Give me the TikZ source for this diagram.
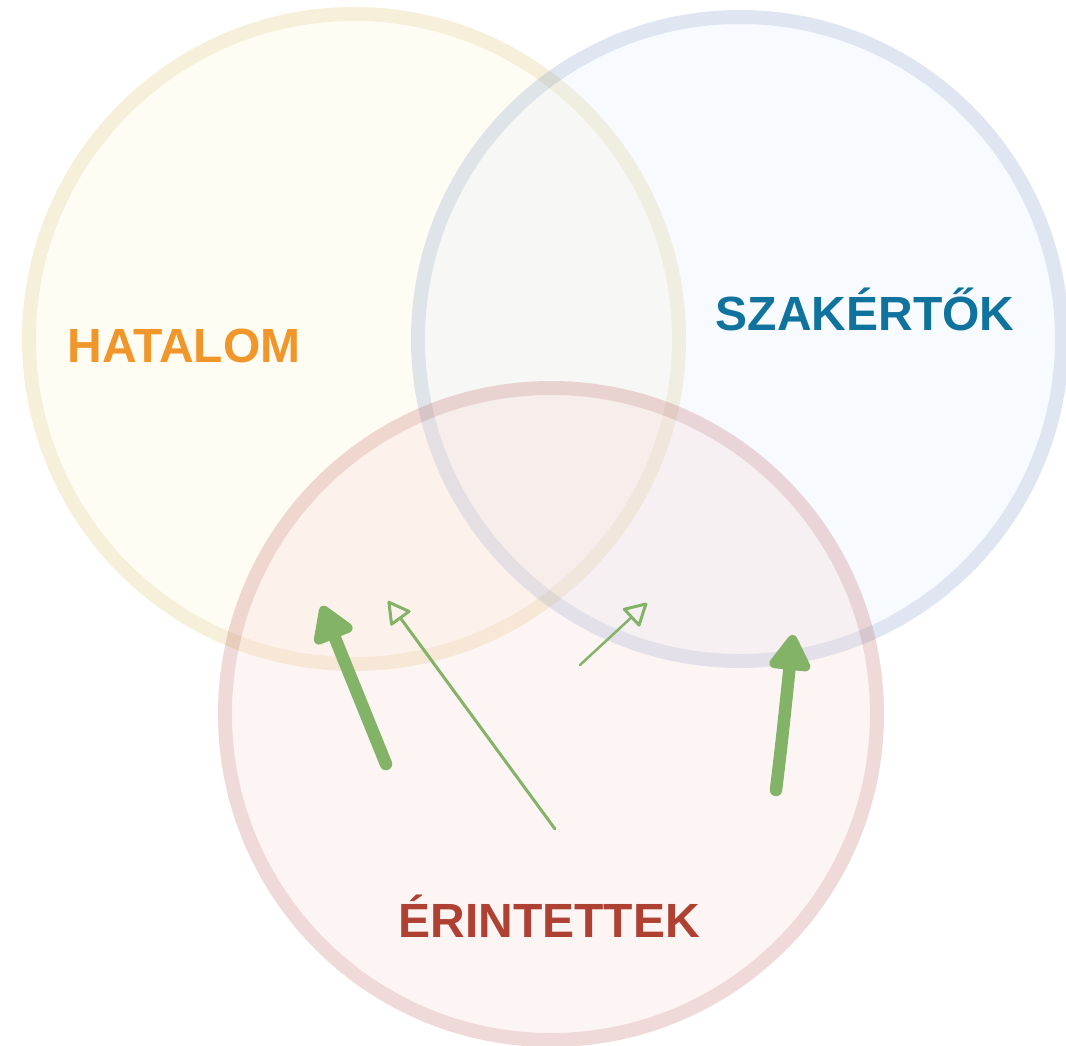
\documentclass[tikz,border=0pt]{standalone}
\usepackage{fontspec}
\setmainfont{Liberation Sans}
\usetikzlibrary{arrows.meta}
\definecolor{ystroke}{HTML}{D6B656}
\definecolor{yfill}{HTML}{FFF2CC}
\definecolor{bstroke}{HTML}{6C8EBF}
\definecolor{bfill}{HTML}{DAE8FC}
\definecolor{rstroke}{HTML}{B85450}
\definecolor{rfill}{HTML}{F8CECC}
\definecolor{torange}{HTML}{F0962A}
\definecolor{tblue}{HTML}{10739E}
\definecolor{tred}{HTML}{AE4132}
\definecolor{agreen}{HTML}{82B366}
\tikzset{
  setfill/.style={circle, minimum size=#1, inner sep=0pt, fill opacity=0.22},
  setring/.style={line width=14pt, draw opacity=0.22},
  setlabel/.style={font=\bfseries\fontsize{48}{50}\selectfont, anchor=base},
  thickarrow/.style={draw=agreen, line width=12.5pt, line cap=round, -{Triangle[length=40pt, width=46pt, round]}},
  thinarrow/.style={draw=agreen, line width=3pt, line cap=round, -{Triangle[open, length=24pt, width=26pt, round, line width=3pt]}},
}
\begin{document}
\begin{tikzpicture}[x=1pt, y=-1pt]
\useasboundingbox (0,0) rectangle (1066,1046);
\node[setfill=636pt, fill=yfill] (hatalom) at (354,339) {};
\draw[setring, draw=ystroke] (hatalom.center) circle[radius=325pt];
\node[setfill=630pt, fill=bfill] (szakertok) at (740,339) {};
\draw[setring, draw=bstroke] (szakertok.center) circle[radius=322pt];
\node[setfill=638pt, fill=rfill] (erintettek) at (551,714) {};
\draw[setring, draw=rstroke] (erintettek.center) circle[radius=326pt];
\node[setlabel, text=torange] (lh) at (184,362) {HATALOM};
\node[setlabel, text=tblue] (ls) at (865,330) {SZAKÉRTŐK};
\node[setlabel, text=tred] (le) at (549,937) {ÉRINTETTEK};
\coordinate (a1s) at (386,764);
\coordinate (a1e) at (322,606);
\coordinate (a2s) at (555,829);
\coordinate (a2e) at (388,601);
\coordinate (a3s) at (580,665);
\coordinate (a3e) at (647,603);
\coordinate (a4s) at (776,790);
\coordinate (a4e) at (793,635);
\draw[thickarrow] (a1s) -- (a1e);
\draw[thinarrow] (a2s) -- (a2e);
\draw[thinarrow, line width=2.5pt] (a3s) -- (a3e);
\draw[thickarrow] (a4s) .. controls (782,740) .. (a4e);
\end{tikzpicture}
\end{document}
